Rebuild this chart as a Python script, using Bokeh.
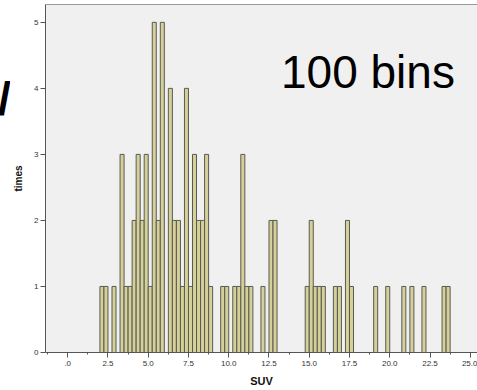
import numpy as np
from bokeh.plotting import figure
from bokeh.models import FixedTicker, LinearAxis, Range1d, Label, Div
from bokeh.layouts import row
from bokeh.embed import file_html
from bokeh.resources import INLINE

# ---- data ----
bin_width = 0.25
suv_bin_left = [2.00, 2.25, 2.75, 3.25, 3.50, 3.75, 4.00, 4.25, 4.50, 4.75,
                5.00, 5.25, 5.50, 5.75, 6.25, 6.50, 6.75, 7.00, 7.25, 7.50,
                7.75, 8.00, 8.25, 8.50, 8.75, 9.50, 9.75, 10.25, 10.50, 10.75,
                11.00, 11.25, 12.00, 12.50, 12.75, 14.75, 15.00, 15.25, 15.50, 15.75,
                16.50, 16.75, 17.25, 17.50, 19.00, 19.75, 20.75, 21.25, 22.00, 23.25,
                23.50]
times = [1, 1, 1, 3, 1, 1, 2, 3, 2, 3,
         1, 5, 2, 5, 4, 2, 2, 1, 4, 1,
         3, 2, 2, 3, 1, 1, 1, 1, 1, 3,
         1, 1, 1, 2, 2, 1, 2, 1, 1, 1,
         1, 1, 2, 1, 1, 1, 1, 1, 1, 1,
         1]
x_ticks = [0, 2.5, 5, 7.5, 10, 12.5, 15, 17.5, 20, 22.5, 25]
x_tick_labels = [".0", "2.5", "5.0", "7.5", "10.0", "12.5", "15.0", "17.5", "20.0", "22.5", "25.0"]
x_minor_ticks = [-1.25, 1.25, 3.75, 6.25, 8.75, 11.25, 13.75, 16.25, 18.75, 21.25, 23.75]
y_ticks = [0, 1, 2, 3, 4, 5]

left = np.array(suv_bin_left)
right = left + bin_width

FONT = "Liberation Sans"

p = figure(width=467, height=390, output_backend="svg", toolbar_location=None,
           x_range=Range1d(-1.38, 25.45), y_range=Range1d(0, 5.27),
           min_border_left=35, min_border_right=0, min_border_top=4, min_border_bottom=38,
           margin=0)
p.background_fill_color = "#f0f0f0"
p.border_fill_color = "white"
p.outline_line_color = None
p.xgrid.visible = False
p.ygrid.visible = False

p.quad(left=left, right=right, bottom=0, top=times,
       fill_color="#d5cf98", line_color="#5a5a55", line_width=1)

# x axis
xa = p.xaxis[0]
xa.ticker = FixedTicker(ticks=x_ticks, minor_ticks=x_minor_ticks)
xa.major_label_overrides = dict(zip(x_ticks, x_tick_labels))
xa.axis_line_color = "#555555"
xa.major_tick_line_color = "#555555"
xa.minor_tick_line_color = "#555555"
xa.major_tick_in = 0
xa.major_tick_out = 5
xa.minor_tick_in = 0
xa.minor_tick_out = 2
xa.major_label_standoff = 3
xa.major_label_text_font = FONT
xa.major_label_text_font_size = "8px"
xa.major_label_text_color = "#333333"
xa.axis_label = "SUV"
xa.axis_label_text_font = FONT
xa.axis_label_text_font_style = "bold"
xa.axis_label_text_font_size = "11px"
xa.axis_label_text_color = "#111111"
xa.axis_label_standoff = 6

# y axis
ya = p.yaxis[0]
ya.ticker = FixedTicker(ticks=y_ticks)
ya.axis_line_color = "#555555"
ya.major_tick_line_color = "#555555"
ya.minor_tick_line_color = None
ya.major_tick_in = 0
ya.major_tick_out = 5
ya.major_label_standoff = 2
ya.major_label_text_font = FONT
ya.major_label_text_font_size = "8px"
ya.major_label_text_color = "#333333"
ya.axis_label = "times"
ya.axis_label_text_font = FONT
ya.axis_label_text_font_style = "bold"
ya.axis_label_text_font_size = "10px"
ya.axis_label_text_color = "#111111"
ya.axis_label_standoff = 7

# top border line
top = LinearAxis(major_tick_line_color=None, minor_tick_line_color=None,
                 major_label_text_font_size="0px", major_tick_out=0, major_tick_in=0,
                 major_label_standoff=0, axis_line_color="#999999")
p.add_layout(top, "above")

p.add_layout(Label(x=235.5, y=280.5, x_units="screen", y_units="screen", text="100 bins",
                   text_font=FONT, text_font_size="46px", text_align="left",
                   text_baseline="alphabetic", text_color="black"))

# cropped fragment of a large glyph at the far left edge of the picture
frag = Div(text='<div style="position:relative;width:10px;height:390px;overflow:hidden;">'
                '<span style="position:absolute;left:-2px;top:76px;font-family:\'Liberation Sans\';'
                'font-weight:bold;font-size:46px;line-height:46px;color:black;">/</span></div>',
           width=10, height=390, margin=0)

layout = row(frag, p, spacing=0, margin=0)
open("out.html", "w").write(file_html(layout, INLINE))
